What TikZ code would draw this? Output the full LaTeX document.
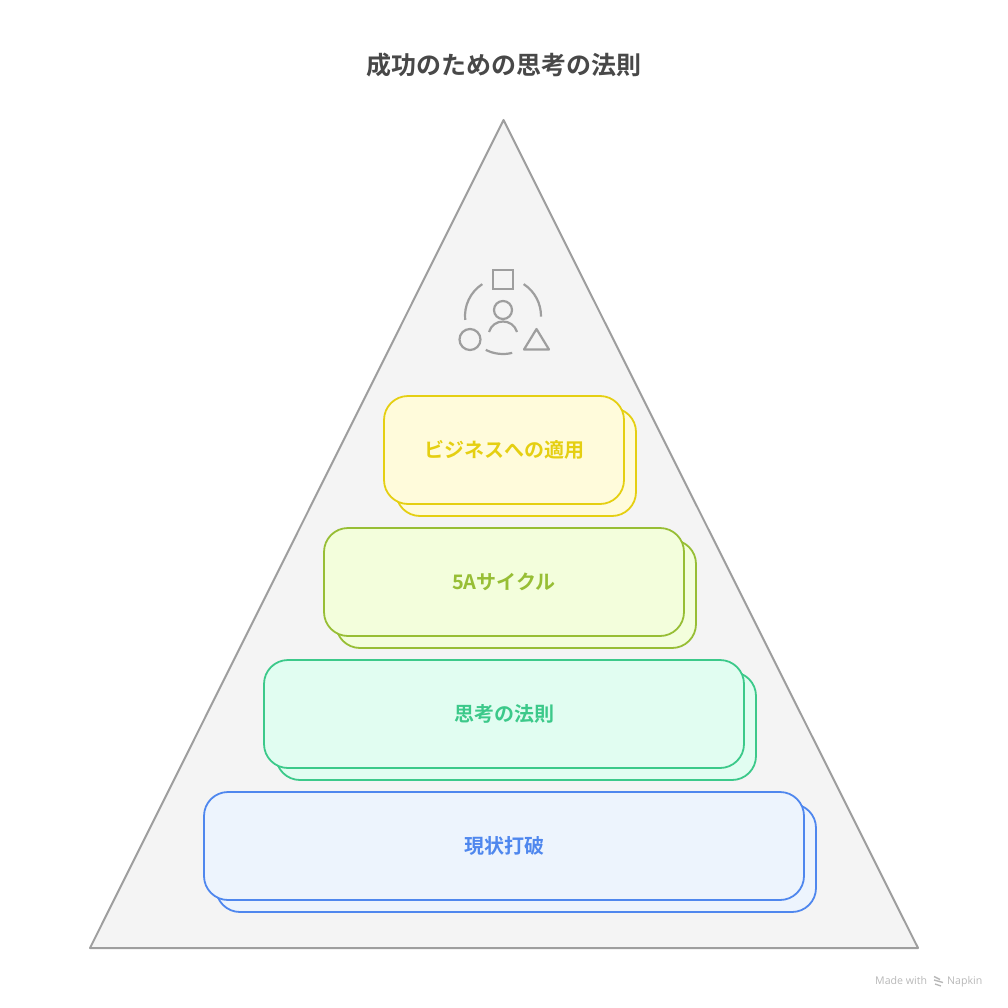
\documentclass[tikz,border=0pt]{standalone}
\usepackage{fontspec}
\setmainfont{Noto Sans CJK JP}[BoldFont={* Bold}]
\newfontfamily\markfont{Open Sans}
\definecolor{triline}{HTML}{9E9E9E}
\definecolor{trifill}{HTML}{F4F4F4}
\definecolor{titlecol}{HTML}{484848}
\definecolor{yellowline}{HTML}{E5CF12}
\definecolor{yellowfill}{HTML}{FFFBDB}
\definecolor{limeline}{HTML}{97BE35}
\definecolor{limefill}{HTML}{F3FEDC}
\definecolor{mintline}{HTML}{3CC98A}
\definecolor{mintfill}{HTML}{E1FDF1}
\definecolor{blueline}{HTML}{4F87EE}
\definecolor{bluefill}{HTML}{EDF4FD}
\tikzset{
	layerbox/.style={line width=1.8pt,rounded corners=24pt},
	layertext/.style={font=\bfseries\fontsize{20}{24}\selectfont},
	iconline/.style={draw=triline,line width=2.2pt},
	marktext/.style={font=\markfont\fontsize{10.6}{13}\selectfont,text=black!28,anchor=base west,inner sep=0pt},
}

\begin{document}
\begin{tikzpicture}[x=1pt,y=-1pt]
	\useasboundingbox (0,0) rectangle (1008,1008);
	\def\dx{12}
	\def\dy{12}
	\def\radring{38}

	\node[font=\bfseries\fontsize{25}{30}\selectfont,text=titlecol] (title) at (503.5,65) {成功のための思考の法則};

	\draw[draw=triline,fill=trifill,line width=2pt,line join=round] (503.5,120) -- (918,948) -- (90,948) -- cycle;

	% icon
	\draw[iconline] (493,270) rectangle (513,289);
	\draw[iconline] (503,310) circle (9);
	\draw[iconline] (489,332) .. controls (493,318) and (513,318) .. (517,332);
	\draw[iconline] (470,339.5) circle (10.5);
	\draw[iconline,line join=round] (536.5,329) -- (549,349.5) -- (524,349.5) -- cycle;
	\draw[iconline] (503,316) ++(174:\radring) arc (174:237:\radring);
	\draw[iconline] (503,316) ++(303:\radring) arc (303:361:\radring);
	\draw[iconline] (503,316) ++(76:\radring) arc (76:117:\radring);

	% yellow
	\draw[layerbox,draw=yellowline,fill=yellowfill] (384+\dx,396+\dy) rectangle (624+\dx,504+\dy);
	\draw[layerbox,draw=yellowline,fill=yellowfill] (384,396) rectangle (624,504);
	\node[layertext,text=yellowline] (apply) at (504,450) {ビジネスへの適用};

	% lime
	\draw[layerbox,draw=limeline,fill=limefill] (324+\dx,528+\dy) rectangle (684+\dx,636+\dy);
	\draw[layerbox,draw=limeline,fill=limefill] (324,528) rectangle (684,636);
	\node[layertext,text=limeline] (cycle) at (504,582) {5Aサイクル};

	% mint
	\draw[layerbox,draw=mintline,fill=mintfill] (264+\dx,660+\dy) rectangle (744+\dx,768+\dy);
	\draw[layerbox,draw=mintline,fill=mintfill] (264,660) rectangle (744,768);
	\node[layertext,text=mintline] (laws) at (504,714) {思考の法則};

	% blue
	\draw[layerbox,draw=blueline,fill=bluefill] (204+\dx,792+\dy) rectangle (804+\dx,900+\dy);
	\draw[layerbox,draw=blueline,fill=bluefill] (204,792) rectangle (804,900);
	\node[layertext,text=blueline] (break) at (504,846) {現状打破};

	% watermark
	\node[marktext] (made) at (875,984.5) {Made with};
	\node[marktext] (napkin) at (947,984.5) {Napkin};
	\draw[black!28,line width=1.4pt] (934,976.5) -- (940,979.5) (934,980) -- (943,982.5) (935,984) -- (941,986);
\end{tikzpicture}
\end{document}
